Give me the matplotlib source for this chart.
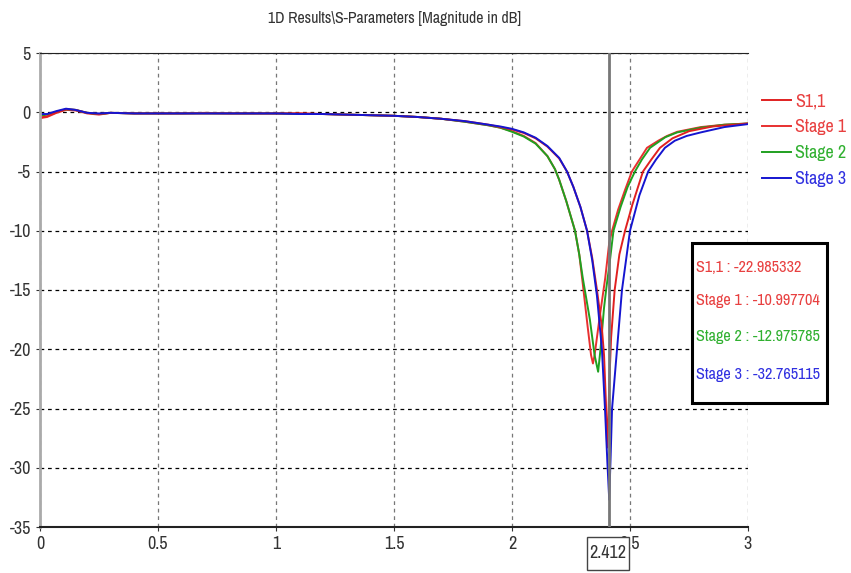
import matplotlib
matplotlib.use("Agg")
import matplotlib.pyplot as plt
from matplotlib.patches import Rectangle

FONT = ['Archivo Narrow', 'Asap Condensed', 'DejaVu Sans']
plt.rcParams['font.family'] = FONT
plt.rcParams['axes.unicode_minus'] = False

title = "1D Results\\S-Parameters [Magnitude in dB]"
series_names = ["S1,1", "Stage 1", "Stage 2", "Stage 3"]
series_colors = ["#e02020", "#e83030", "#20a020", "#1515d0"]
text_colors = ["#e84040", "#e84040", "#30b030", "#3030e0"]

flat_f = [0.0, 0.03, 0.07, 0.11, 0.15, 0.2, 0.25, 0.3, 0.4, 0.5, 0.6, 0.7, 0.8, 0.9,
          1.0, 1.1, 1.2, 1.3, 1.4, 1.5, 1.6, 1.7, 1.8, 1.9]
s11_flat = [-0.45, -0.35, 0.0, 0.25, 0.2, -0.05, -0.15, -0.05, -0.1, -0.1, -0.1, -0.1, -0.1,
            -0.1, -0.1, -0.1, -0.15, -0.2, -0.25, -0.3, -0.4, -0.55, -0.75, -1.05]
st1_flat = [-0.5, -0.4, -0.05, 0.2, 0.15, -0.1, -0.2, -0.05, -0.1, -0.1, -0.1, -0.05, -0.1,
            -0.1, -0.1, -0.1, -0.15, -0.2, -0.25, -0.3, -0.4, -0.55, -0.8, -1.1]
st2_flat = [-0.3, -0.2, 0.05, 0.25, 0.2, -0.05, -0.15, -0.05, -0.1, -0.1, -0.1, -0.1, -0.1,
            -0.1, -0.1, -0.15, -0.15, -0.2, -0.25, -0.3, -0.4, -0.55, -0.8, -1.1]
st3_flat = [-0.15, -0.15, 0.1, 0.3, 0.2, -0.05, -0.1, -0.05, -0.1, -0.1, -0.1, -0.1, -0.1,
            -0.1, -0.1, -0.15, -0.15, -0.2, -0.25, -0.3, -0.4, -0.55, -0.75, -1.05]

s11_f = [1.95, 2.0, 2.05, 2.1, 2.15, 2.2, 2.233, 2.26, 2.29, 2.318, 2.34, 2.36, 2.38, 2.39,
         2.398, 2.403, 2.408, 2.412, 2.42, 2.435, 2.455, 2.479, 2.51, 2.555, 2.59, 2.627,
         2.68, 2.75, 2.85, 3.0]
s11_v = [-1.25, -1.45, -1.75, -2.2, -2.9, -3.9, -5.0, -6.3, -8.0, -10.0, -12.3, -15.0, -18.0,
         -20.5, -24.5, -28.3, -26.0, -23.0, -19.0, -15.0, -12.0, -10.0, -7.8, -5.0, -4.0,
         -3.0, -2.2, -1.6, -1.2, -0.95]

st1_f = [1.95, 2.0, 2.05, 2.1, 2.15, 2.182, 2.2, 2.23, 2.267, 2.285, 2.30, 2.32, 2.335,
         2.343, 2.35, 2.37, 2.395, 2.412, 2.424, 2.45, 2.48, 2.508, 2.54, 2.572, 2.62,
         2.657, 2.7, 2.8, 2.9, 3.0]
st1_v = [-1.3, -1.6, -2.0, -2.6, -3.7, -4.8, -5.7, -7.5, -10.0, -12.0, -14.5, -18.0, -20.5,
         -21.2, -20.5, -17.5, -14.0, -11.0, -10.0, -8.2, -6.5, -5.0, -4.0, -3.0, -2.4,
         -2.0, -1.65, -1.25, -1.05, -0.95]

st2_f = [1.95, 2.0, 2.05, 2.1, 2.15, 2.182, 2.2, 2.23, 2.267, 2.285, 2.30, 2.33, 2.35,
         2.365, 2.375, 2.39, 2.40, 2.412, 2.43, 2.46, 2.49, 2.521, 2.55, 2.585, 2.65,
         2.7, 2.8, 2.9, 3.0]
st2_v = [-1.3, -1.65, -2.05, -2.65, -3.7, -4.8, -5.7, -7.5, -10.0, -12.0, -14.0, -17.5, -20.5,
         -21.9, -20.0, -16.5, -14.8, -13.0, -10.0, -8.0, -6.3, -5.0, -4.0, -3.0, -2.1,
         -1.7, -1.3, -1.05, -0.95]

st3_f = [1.95, 2.0, 2.05, 2.1, 2.15, 2.2, 2.233, 2.26, 2.29, 2.318, 2.34, 2.36, 2.381,
         2.394, 2.404, 2.412, 2.418, 2.424, 2.445, 2.466, 2.5, 2.54, 2.577, 2.61, 2.648,
         2.69, 2.74, 2.8, 2.9, 3.0]
st3_v = [-1.2, -1.4, -1.7, -2.15, -2.85, -3.85, -5.0, -6.3, -8.0, -10.0, -12.5, -15.5, -20.0,
         -25.0, -29.5, -32.7, -29.0, -25.0, -20.0, -15.0, -10.0, -7.0, -5.0, -4.0, -3.0,
         -2.4, -2.0, -1.7, -1.25, -1.0]

cursor_x = 2.412
cursor_labels = ["S1,1 : -22.985332", "Stage 1 : -10.997704",
                 "Stage 2 : -12.975785", "Stage 3 : -32.765115"]

x_ticks = [0, 0.5, 1, 1.5, 2, 2.5, 3]
x_tick_labels = ["0", "0.5", "1", "1.5", "2", "2.5", "3"]
y_ticks = [5, 0, -5, -10, -15, -20, -25, -30, -35]

W, H = 851, 573
fig = plt.figure(figsize=(W / 100, H / 100), dpi=100)
ax = fig.add_axes([40 / W, 1 - 527 / H, 708 / W, 474 / H])

all_f = [flat_f + s11_f, flat_f + st1_f, flat_f + st2_f, flat_f + st3_f]
all_v = [s11_flat + s11_v, st1_flat + st1_v, st2_flat + st2_v, st3_flat + st3_v]
order = [1, 2, 0, 3]
lines = [None] * 4
for i in order:
    ln, = ax.plot(all_f[i], all_v[i], color=series_colors[i], lw=1.4, label=series_names[i])
    lines[i] = ln

ax.set_xlim(0, 3)
ax.set_ylim(-35, 5)
ax.set_xticks(x_ticks)
ax.set_xticklabels(x_tick_labels)
ax.set_yticks(y_ticks)
ax.tick_params(labelsize=13, length=3, colors='#333333', labelcolor='#333333')
ax.grid(True, axis='y', color='black', linestyle=(0, (3, 3)), lw=0.9)
ax.grid(True, axis='x', color='#777777', linestyle=(0, (3, 3)), lw=0.9)
ax.set_axisbelow(True)
ax.spines['right'].set_visible(False)
ax.spines['left'].set_color('#aaaaaa')
ax.spines['left'].set_linewidth(2)
ax.spines['top'].set_color('#222222')
ax.spines['bottom'].set_color('#222222')
ax.spines['bottom'].set_linewidth(1.5)

fig.text(395 / W, 1 - 18 / H, title, fontsize=11.4, color='#333333',
         ha='center', va='center')

ax.axvline(cursor_x, color='#777777', lw=2, zorder=5)

leg = ax.legend(handles=lines, loc='upper left', bbox_to_anchor=(1.01, 0.93),
                frameon=False, fontsize=13, handlelength=1.6, handletextpad=0.2,
                labelspacing=0.55, borderaxespad=0, borderpad=0.4)
for t, c in zip(leg.get_texts(), text_colors):
    t.set_color(c)

# cursor value box
fig.patches.append(Rectangle((692 / W, 1 - 403 / H), 135 / W, 160 / H,
                             transform=fig.transFigure, facecolor='white',
                             edgecolor='black', lw=2.2, zorder=10))
for lab, c, yy in zip(cursor_labels, text_colors, [268, 301, 337, 374]):
    fig.text(696 / W, 1 - yy / H, lab, color=c, fontsize=11.7,
             va='center', ha='left', zorder=11)

# cursor x label box (below the axis at the cursor position)
box_w = 42 / 236   # width in data units
box_h = 33 / 474   # height in axes fraction
box_y0 = -43 / 474
ax.add_patch(Rectangle((cursor_x - 22 / 236, box_y0), box_w, box_h,
                       transform=ax.get_xaxis_transform(),
                       facecolor='white', edgecolor='#444444', lw=1,
                       clip_on=False, zorder=12))
ax.text(cursor_x - 1 / 236, box_y0 + box_h / 2, "2.412", transform=ax.get_xaxis_transform(),
        ha='center', va='center', fontsize=13, color='#333333', zorder=13, clip_on=False)

fig.savefig("out.png", dpi=100)
